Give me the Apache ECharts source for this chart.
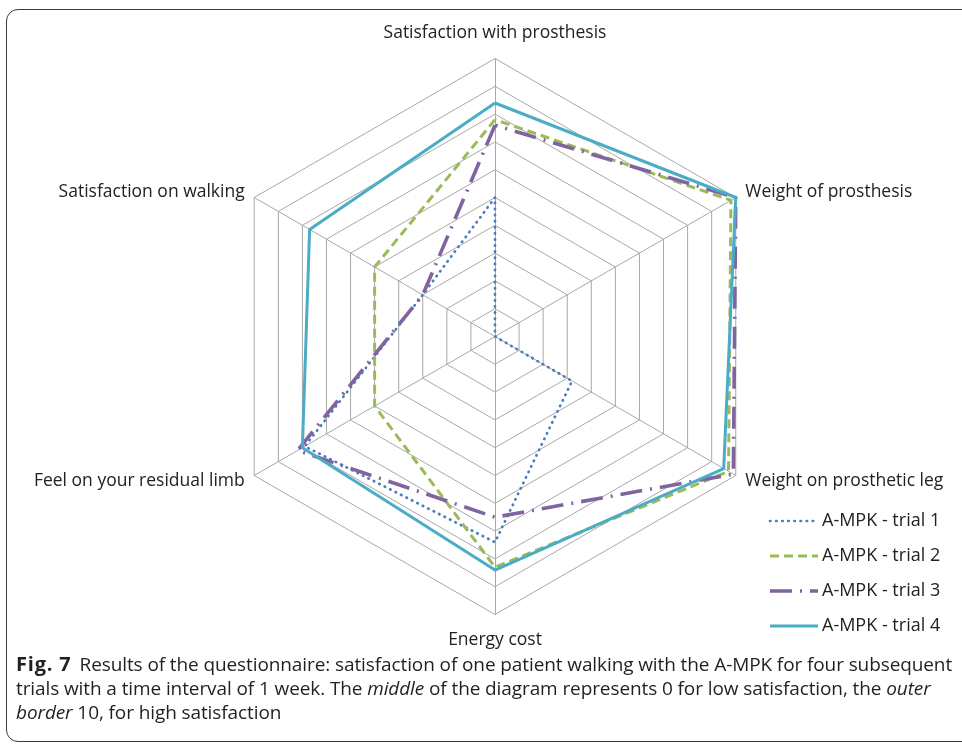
<!DOCTYPE html>
<html>
<head>
<meta charset="utf-8">
<script src="https://cdn.jsdelivr.net/npm/echarts@6/dist/echarts.min.js"></script>
<style>
  html, body { margin: 0; padding: 0; background: #fff; }
  #wrap { position: relative; width: 962px; height: 744px; overflow: hidden; }
  #frame {
    position: absolute; left: 6px; top: 9px; width: 990px; height: 733px;
    border: 1.5px solid #3a3a3a; border-radius: 12px; box-sizing: border-box;
  }
  #chart { position: absolute; left: 0; top: 0; width: 962px; height: 744px; }
  #caption {
    position: absolute; left: 16px; top: 652px; width: 945px;
    font-family: "Open Sans", sans-serif;
    font-size: 19px; line-height: 24px; color: #231f20;
    white-space: nowrap; letter-spacing: -0.1px;
  }
  #caption b { font-size: 20px; letter-spacing: 0.8px; margin-right: 8px; }
</style>
</head>
<body>
<div id="wrap">
  <div id="frame"></div>
  <div id="chart"></div>
  <div id="caption">
    <div><b>Fig. 7</b>Results of the questionnaire: satisfaction of one patient walking with the A-MPK for four subsequent</div>
    <div>trials with a time interval of 1 week. The <i>middle</i> of the diagram represents 0 for low satisfaction, the <i>outer</i></div>
    <div><i>border</i> 10, for high satisfaction</div>
  </div>
</div>
<script>
// axes, counter-clockwise from the top
const indicators = [
  "Satisfaction with prosthesis",
  "Satisfaction on walking",
  "Feel on your residual limb",
  "Energy cost",
  "Weight on prosthetic leg",
  "Weight of prosthesis",
];
const seriesNames = ["A-MPK - trial 1", "A-MPK - trial 2", "A-MPK - trial 3", "A-MPK - trial 4"];
const trial1 = [5, 3, 7.9, 7.4, 3.2, 0];
const trial2 = [7.8, 5, 5, 8.3, 9.7, 9.8];
const trial3 = [7.6, 3, 8.2, 6.5, 9.9, 10];
const trial4 = [8.4, 7.7, 8, 8.4, 9.5, 10];
const maxValue = 10;

const font = '"Open Sans", "Noto Sans", sans-serif';
const styles = [
  { color: "#4a7ebb", width: 2.7, type: [0.5, 5.6], cap: "round" },
  { color: "#9bbb59", width: 3, type: [9, 5], cap: "butt" },
  { color: "#8064a2", width: 3.6, type: [22, 8, 2, 8], cap: "butt" },
  { color: "#4bacc6", width: 3, type: "solid", cap: "butt" },
];
const values = [trial1, trial2, trial3, trial4];

const chart = echarts.init(document.getElementById("chart"), null, { renderer: "canvas" });

// hand-drawn legend, Excel style
const legendX = 770, legendY = [521, 556, 591, 626];
const legendGraphics = [];
seriesNames.forEach((name, i) => {
  const s = styles[i];
  legendGraphics.push({
    type: "line",
    shape: { x1: legendX, y1: legendY[i], x2: legendX + 48, y2: legendY[i] },
    style: {
      stroke: s.color,
      lineWidth: s.width,
      lineDash: s.type === "solid" ? null : s.type,
      lineCap: s.cap,
    },
  });
  legendGraphics.push({
    type: "text",
    x: legendX + 52,
    y: legendY[i],
    style: {
      text: name,
      font: `18px ${font}`,
      fill: "#222",
      textVerticalAlign: "middle",
    },
  });
});

chart.setOption({
  animation: false,
  radar: {
    center: [495, 336.5],
    radius: 278,
    startAngle: 90,
    shape: "polygon",
    splitNumber: 10,
    nameGap: 11,
    axisName: { color: "#222", fontFamily: font, fontSize: 17.5, lineHeight: 29 },
    indicator: indicators.map((name) => ({ name, min: 0, max: maxValue })),
    splitLine: { lineStyle: { color: "#a8a8a8", width: 1 } },
    splitArea: { show: false },
    axisLine: { lineStyle: { color: "#a8a8a8", width: 1 } },
    axisTick: { show: false },
    axisLabel: { show: false },
  },
  series: seriesNames.map((name, i) => ({
    name,
    type: "radar",
    symbol: "none",
    z: 2 + i,
    lineStyle: {
      color: styles[i].color,
      width: styles[i].width,
      type: styles[i].type,
      cap: styles[i].cap,
    },
    data: [{ name, value: values[i] }],
  })),
  graphic: legendGraphics,
});
</script>
</body>
</html>
